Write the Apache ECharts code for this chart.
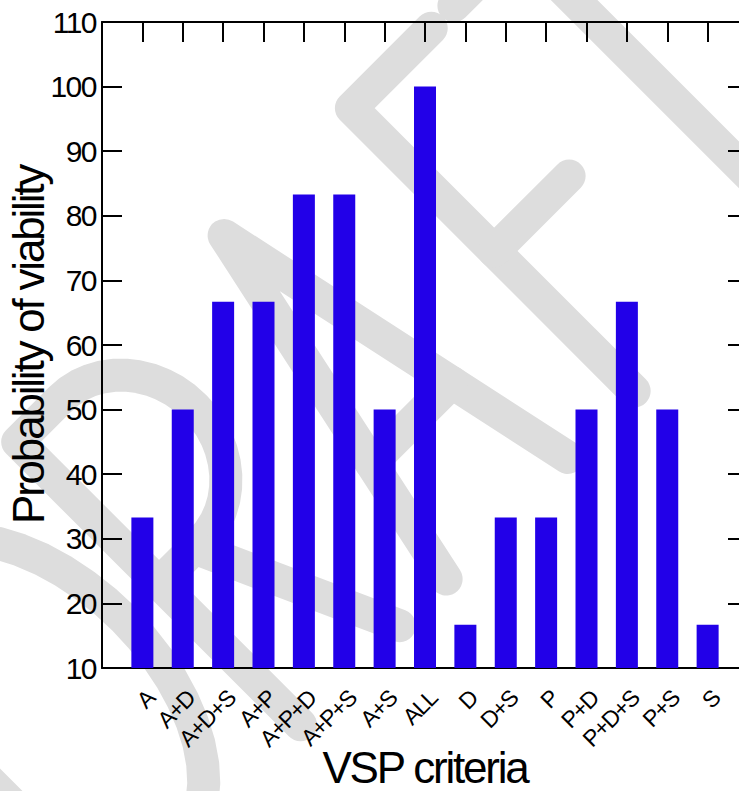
<!DOCTYPE html>
<html>
<head>
<meta charset="utf-8">
<script src="https://cdn.jsdelivr.net/npm/echarts@6/dist/echarts.min.js"></script>
<style>
html,body{margin:0;padding:0;background:#fff;}
#chart{width:739px;height:791px;}
#chart text{letter-spacing:-0.05em;}
</style>
</head>
<body>
<div id="chart"></div>
<script>
const categories = ['A','A+D','A+D+S','A+P','A+P+D','A+P+S','A+S','ALL','D','D+S','P','P+D','P+D+S','P+S','S'];
const viability = [33.3,50,66.7,66.7,83.3,83.3,50,100,16.7,33.3,33.3,50,66.7,50,16.7];
const yTicks = [10,20,30,40,50,60,70,80,90,100,110];
const watermarkText = 'DRAFT';

const FONT = '"Liberation Sans", Arial, Helvetica, sans-serif';
const axisCats = [''].concat(categories, ['']);
const seriesData = ['-'].concat(viability, ['-']);

// ---- decorative "DRAFT" watermark, drawn as stroked letters in a rotated frame ----
function arcPts(cx, cy, rx, ry, a0, a1){
  const pts = [];
  for (let i = 0; i <= 24; i++) {
    const a = (a0 + (a1 - a0) * i / 24) * Math.PI / 180;
    pts.push([cx + rx * Math.cos(a), cy + ry * Math.sin(a)]);
  }
  return pts;
}
const wmStrokes = [
  // D
  [[-560,725],[-560,325],[-470,325]].concat(arcPts(-470,525,120,200,-90,90)).concat([[-560,725]]),
  // R
  [[-300,725],[-300,325],[-240,325]].concat(arcPts(-240,425,90,100,-90,90)).concat([[-300,525]]),
  [[-250,525],[-160,725]],
  // A
  [[-94,725],[-8,325],[78,725]],
  [[-65,590],[49,590]],
  // F
  [[285,325],[172,325],[172,725]],
  [[172,527],[278,527]],
  // T
  [[317,325],[495,325]],
  [[406,325],[406,725]]
];
const wmStyle = {stroke:'#dddddd', fill:null, lineWidth:33, lineCap:'round', lineJoin:'round'};

const chart = echarts.init(document.getElementById('chart'), null, {renderer:'svg'});
const lineStyle = {color:'#000', width:2};
chart.setOption({
  animation:false,
  backgroundColor:'#fff',
  graphic:{
    z:-10,
    elements:[{
      type:'group', x:0, y:0, rotation:Math.PI/4, z:-10, silent:true,
      children: wmStrokes.map(function(pts){
        return {type:'polyline', z:-10, silent:true, shape:{points:pts}, style:wmStyle};
      })
    }]
  },
  grid:{left:102, top:22, width:646, height:646, outerBoundsMode:'none', containLabel:false},
  xAxis:[{
    type:'category', data:axisCats, boundaryGap:false, position:'bottom',
    axisLine:{show:true, onZero:false, lineStyle:lineStyle},
    axisTick:{show:false},
    axisLabel:{interval:0, rotate:45, fontFamily:FONT, fontSize:23, color:'#000', margin:18, verticalAlign:'top'},
    splitLine:{show:false},
    name:'VSP criteria', nameLocation:'middle', nameGap:78, nameMoveOverlap:false,
    nameTextStyle:{fontFamily:FONT, fontSize:44, lineHeight:42, color:'#000'}
  },{
    type:'category', data:axisCats, boundaryGap:false, position:'top',
    axisLine:{show:true, onZero:false, lineStyle:lineStyle},
    axisTick:{show:true, inside:true, length:20, interval:0, lineStyle:lineStyle},
    axisLabel:{show:false}, splitLine:{show:false}
  }],
  yAxis:[{
    type:'value', min:10, max:110, interval:10, position:'left',
    axisLine:{show:true, lineStyle:lineStyle},
    axisTick:{show:true, inside:true, length:20, lineStyle:lineStyle},
    axisLabel:{fontFamily:FONT, fontSize:30, color:'#000', margin:6,
      formatter:function(v){return yTicks.indexOf(v)>=0 ? String(v) : '';}},
    splitLine:{show:false},
    name:'Probability of viability', nameLocation:'middle', nameGap:52, nameMoveOverlap:false,
    nameTextStyle:{fontFamily:FONT, fontSize:44, color:'#000'}
  },{
    type:'value', min:10, max:110, interval:10, position:'right',
    axisLine:{show:true, lineStyle:lineStyle},
    axisTick:{show:true, inside:true, length:20, lineStyle:lineStyle},
    axisLabel:{show:false}, splitLine:{show:false}
  }],
  series:[{
    type:'bar', data:seriesData, xAxisIndex:0, yAxisIndex:0,
    barWidth:22, itemStyle:{color:'#2200e8'}, z:2
  }]
});
</script>
</body>
</html>
